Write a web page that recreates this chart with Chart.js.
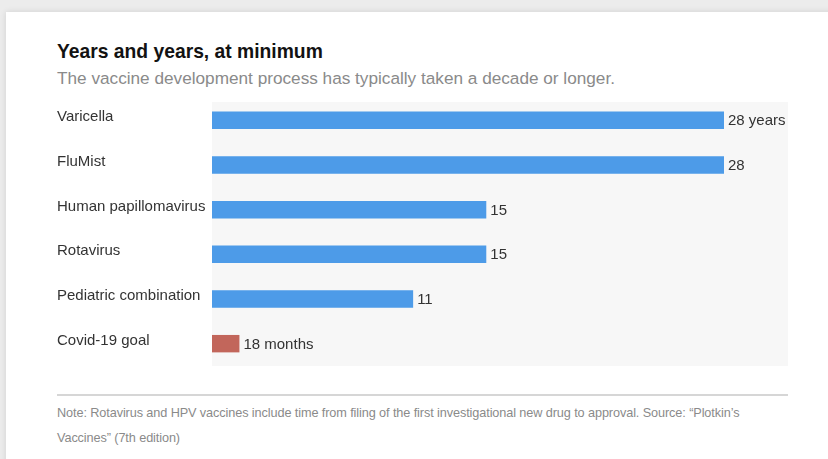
<!DOCTYPE html>
<html lang="en">
<head>
    <meta charset="UTF-8">
    <title>Years and years, at minimum</title>
    <script src="https://cdn.jsdelivr.net/npm/chart.js"></script>
    <style>
        body {
            margin: 0;
            width: 828px;
            height: 459px;
            background-color: #ececec;
            font-family: "Liberation Sans", Arial, sans-serif;
            overflow: hidden;
            position: relative;
        }
        #card {
            position: absolute;
            left: 6px;
            top: 12px;
            width: 830px;
            height: 460px;
            background-color: white;
            box-shadow: 0 0 6px rgba(0,0,0,0.12);
        }
        #title {
            position: absolute;
            left: 57px;
            top: 41px;
            font-size: 19.3px;
            font-weight: bold;
            color: #121212;
        }
        #subtitle {
            position: absolute;
            left: 57px;
            top: 68px;
            font-size: 17.2px;
            color: #8a8a8a;
        }
        #chartBox {
            position: absolute;
            left: 57px;
            top: 98px;
            width: 731px;
            height: 268px;
        }
        #rule {
            position: absolute;
            left: 57px;
            top: 394px;
            width: 731px;
            height: 0;
            border-top: 2px solid #d6d6d6;
        }
        #note {
            position: absolute;
            left: 57px;
            top: 401px;
            font-size: 12.7px;
            line-height: 25px;
            color: #8a8a8a;
            letter-spacing: -0.1px;
        }
    </style>
</head>
<body>
<div id="card"></div>
<div id="title">Years and years, at minimum</div>
<div id="subtitle">The vaccine development process has typically taken a decade or longer.</div>
<div id="chartBox"><canvas id="chart"></canvas></div>
<div id="rule"></div>
<div id="note">Note: Rotavirus and HPV vaccines include time from filing of the first investigational new drug to approval. Source: “Plotkin’s<br>Vaccines” (7th edition)</div>

<script>
    // data (years)
    const vaccines = ['Varicella', 'FluMist', 'Human papillomavirus', 'Rotavirus', 'Pediatric combination', 'Covid-19 goal'];
    const years = [28, 28, 15, 15, 11, 1.5];
    const valueLabels = ['28 years', '28', '15', '15', '11', '18 months'];
    const barColors = ['#4d9be8', '#4d9be8', '#4d9be8', '#4d9be8', '#4d9be8', '#c2665b'];

    const panelBg = {
        id: 'panelBg',
        beforeDraw(chart) {
            const a = chart.chartArea;
            const ctx = chart.ctx;
            ctx.save();
            ctx.fillStyle = '#f7f7f7';
            ctx.fillRect(a.left, a.top + 4, a.right - a.left, a.bottom - a.top);
            ctx.restore();
        }
    };

    const barText = {
        id: 'barText',
        afterDatasetsDraw(chart) {
            const ctx = chart.ctx;
            const meta = chart.getDatasetMeta(0);
            ctx.save();
            ctx.font = '15px "Liberation Sans", Arial, sans-serif';
            ctx.fillStyle = '#333';
            ctx.textBaseline = 'middle';
            meta.data.forEach((bar, i) => {
                ctx.fillText(valueLabels[i], bar.x + 4, bar.y + 1);
            });
            ctx.restore();
        }
    };

    new Chart(document.getElementById('chart'), {
        type: 'bar',
        data: {
            labels: vaccines,
            datasets: [{
                data: years,
                backgroundColor: barColors,
                barPercentage: 0.78,
                categoryPercentage: 0.5
            }]
        },
        options: {
            indexAxis: 'y',
            responsive: true,
            maintainAspectRatio: false,
            animation: false,
            layout: { padding: 0 },
            plugins: {
                legend: { display: false },
                tooltip: { enabled: false }
            },
            scales: {
                x: {
                    display: false,
                    min: 0,
                    max: 31.5
                },
                y: {
                    grid: { display: false, drawTicks: false },
                    border: { display: false },
                    afterFit(scale) {
                        scale.width = 155;
                        scale.paddingTop = 0;
                        scale.paddingBottom = 0;
                    },
                    ticks: {
                        crossAlign: 'far',
                        padding: 0,
                        labelOffset: -3,
                        color: '#333',
                        font: { size: 15, family: '"Liberation Sans", Arial, sans-serif' }
                    }
                }
            }
        },
        plugins: [panelBg, barText]
    });
</script>
</body>
</html>
